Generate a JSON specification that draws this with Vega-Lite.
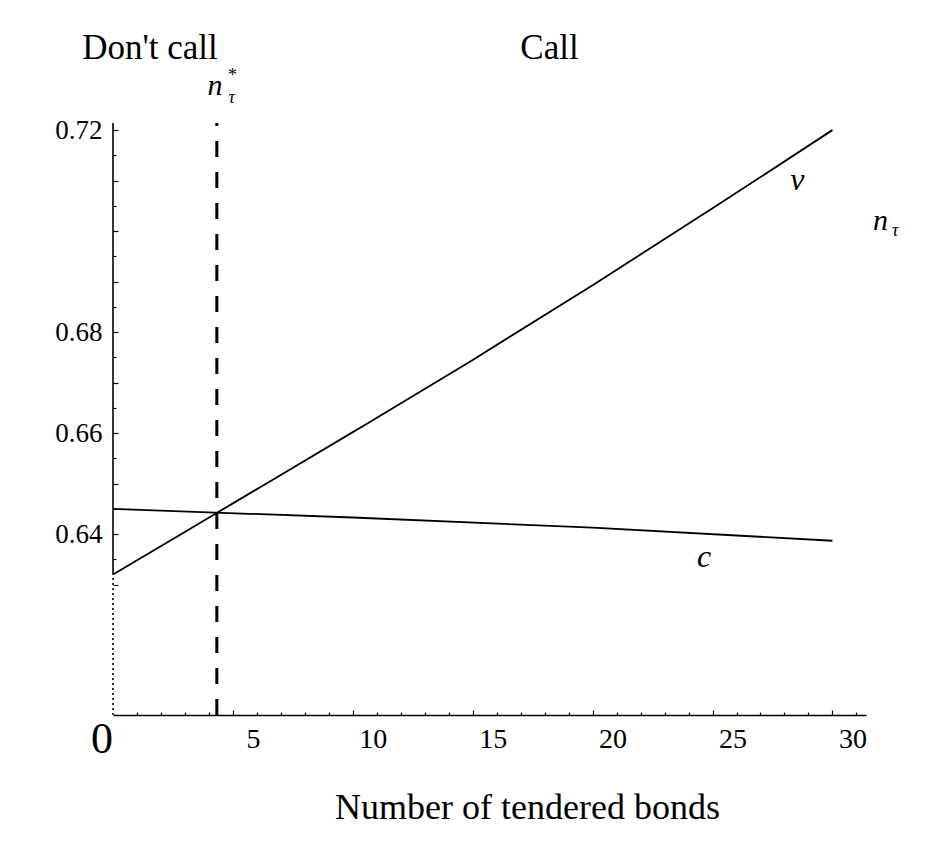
{
  "$schema": "https://vega.github.io/schema/vega-lite/v6.json",
  "width": 753,
  "height": 592,
  "autosize": "none",
  "padding": {"left": 113, "top": 123, "right": 75, "bottom": 127},
  "background": "white",
  "config": {
    "view": {"stroke": null},
    "font": "Liberation Serif",
    "text": {"font": "Liberation Serif"},
    "axis": {"grid": false, "domainColor": "black", "tickColor": "black", "labelColor": "black", "titleColor": "black", "labelFont": "Liberation Serif", "titleFont": "Liberation Serif"}
  },
  "datasets": {
    "curves": [
      {"series": "v", "x": 0, "y": 0.632},
      {"series": "v", "x": 5, "y": 0.6461},
      {"series": "v", "x": 10, "y": 0.6602},
      {"series": "v", "x": 15, "y": 0.6745},
      {"series": "v", "x": 20, "y": 0.6893},
      {"series": "v", "x": 25, "y": 0.7045},
      {"series": "v", "x": 30, "y": 0.72},
      {"series": "c", "x": 0, "y": 0.645},
      {"series": "c", "x": 10, "y": 0.6433},
      {"series": "c", "x": 20, "y": 0.6413},
      {"series": "c", "x": 30, "y": 0.6387}
    ]
  },
  "encoding": {
    "x": {
      "field": "x", "type": "quantitative",
      "scale": {"domain": [0, 31.4], "nice": false, "zero": false},
      "axis": {
        "title": "Number of tendered bonds",
        "titleFont": "Liberation Serif",
        "titleFontSize": 36, "titleFontWeight": "normal",
        "titleX": 414, "titleY": 103, "titleAlign": "center", "titleBaseline": "alphabetic",
        "values": [1,2,3,4,5,6,7,8,9,10,11,12,13,14,15,16,17,18,19,20,21,22,23,24,25,26,27,28,29,30,31],
        "labelExpr": "datum.value % 5 === 0 ? datum.label : ''",
        "labelFont": "Liberation Serif",
        "labelFontSize": 28, "labelOffset": 20, "labelBaseline": "alphabetic", "labelPadding": 37,
        "labelOverlap": false, "labelFlush": false,
        "tickSize": {"condition": {"test": "datum.value % 5 === 0", "value": -5}, "value": -3},
        "tickWidth": 1.2, "domainWidth": 1.6
      }
    },
    "y": {
      "field": "y", "type": "quantitative",
      "scale": {"domain": [0.6042, 0.7214], "nice": false, "zero": false},
      "axis": {
        "title": null,
        "domain": false,
        "values": [0.63,0.635,0.64,0.645,0.65,0.655,0.66,0.665,0.67,0.675,0.68,0.685,0.69,0.695,0.7,0.705,0.71,0.715,0.72],
        "labelExpr": "(abs(datum.value-0.72)<1e-6 || abs(datum.value-0.68)<1e-6 || abs(datum.value-0.66)<1e-6 || abs(datum.value-0.64)<1e-6) ? format(datum.value, '.2f') : ''",
        "labelFont": "Liberation Serif",
        "labelFontSize": 27, "labelBaseline": "middle", "labelPadding": 16,
        "labelOverlap": false, "labelFlush": false,
        "tickSize": {"condition": {"test": "abs(datum.value*100 - round(datum.value*100)) < 0.01", "value": -5}, "value": -3},
        "tickWidth": 1.2
      }
    }
  },
  "layer": [
    {
      "data": {"name": "curves"},
      "mark": {"type": "line", "color": "black", "strokeWidth": 1.8, "interpolate": "monotone"},
      "encoding": {"detail": {"field": "series", "type": "nominal"}}
    },
    {
      "data": {"values": [{"x": 0, "y": 0.632, "y2": 0.7214}]},
      "mark": {"type": "rule", "color": "black", "strokeWidth": 1.6},
      "encoding": {"y2": {"field": "y2"}}
    },
    {
      "data": {"values": [{"x": 0, "y": 0.6042, "y2": 0.632}]},
      "mark": {"type": "rule", "color": "black", "strokeWidth": 1.6, "strokeDash": [2, 3]},
      "encoding": {"y2": {"field": "y2"}}
    },
    {
      "data": {"values": [{"x": 4.33, "y": 0.6042, "y2": 0.7214}]},
      "mark": {"type": "rule", "color": "black", "strokeWidth": 3, "strokeDash": [16, 15]},
      "encoding": {"y2": {"field": "y2"}}
    },
    {
      "data": {"values": [{"label": "Don't call", "x": 1.54, "y": 0.7341}, {"label": "Call", "x": 18.2, "y": 0.7341}]},
      "mark": {"type": "text", "font": "Liberation Serif", "fontSize": 35, "align": "center", "baseline": "alphabetic", "color": "black"},
      "encoding": {"text": {"field": "label"}}
    },
    {
      "data": {"values": [{"label": "v", "x": 28.54, "y": 0.7081}, {"label": "c", "x": 24.65, "y": 0.6335}]},
      "mark": {"type": "text", "font": "Liberation Serif", "fontSize": 32, "fontStyle": "italic", "align": "center", "baseline": "alphabetic", "color": "black"},
      "encoding": {"text": {"field": "label"}}
    },
    {
      "data": {"values": [{"label": "n", "x": 4.25, "y": 0.7269}, {"label": "n", "x": 32.0, "y": 0.7002}]},
      "mark": {"type": "text", "font": "Liberation Serif", "fontSize": 30, "fontStyle": "italic", "align": "center", "baseline": "alphabetic", "color": "black"},
      "encoding": {"text": {"field": "label"}}
    },
    {
      "data": {"values": [{"label": "τ", "x": 4.95, "y": 0.7253}, {"label": "τ", "x": 32.62, "y": 0.699}]},
      "mark": {"type": "text", "font": "Liberation Serif", "fontSize": 18, "fontStyle": "italic", "align": "center", "baseline": "alphabetic", "color": "black"},
      "encoding": {"text": {"field": "label"}}
    },
    {
      "data": {"values": [{"label": "*", "x": 4.98, "y": 0.7298}]},
      "mark": {"type": "text", "font": "Liberation Serif", "fontSize": 18, "align": "center", "baseline": "alphabetic", "color": "black"},
      "encoding": {"text": {"field": "label"}}
    },
    {
      "data": {"values": [{"label": "0", "x": -0.46, "y": 0.5966}]},
      "mark": {"type": "text", "font": "Liberation Serif", "fontSize": 44, "align": "center", "baseline": "alphabetic", "color": "black"},
      "encoding": {"text": {"field": "label"}}
    }
  ]
}
